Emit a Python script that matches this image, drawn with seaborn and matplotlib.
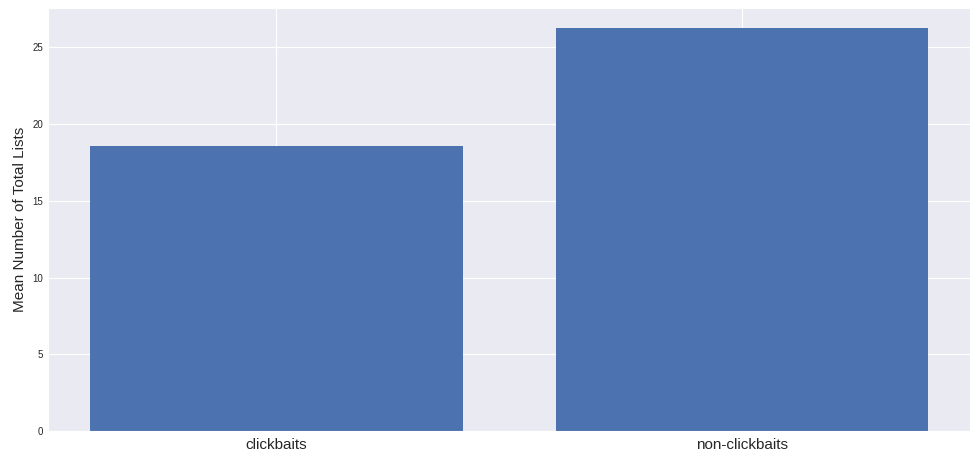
import matplotlib
matplotlib.use("Agg")
import matplotlib.pyplot as plt
import pandas as pd
import seaborn as sns

categories = ["clickbaits", "non-clickbaits"]
mean_lists = [18.55, 26.24]

sns.set_style("darkgrid")
plt.rcParams["font.family"] = ["Liberation Sans", "DejaVu Sans"]

df = pd.DataFrame({"type": categories, "mean": mean_lists})

fig, ax = plt.subplots(figsize=(9.8, 4.53), dpi=100)
sns.barplot(data=df, x="type", y="mean", color="#4C72B0", saturation=1,
            width=0.8, linewidth=0, ax=ax)
ax.set_xlim(-0.49, 1.49)
ax.xaxis.grid(True)
ax.set_axisbelow(True)
ax.set_xlabel("")
ax.set_ylabel("Mean Number of Total Lists", fontsize=11, color=".15")
ax.tick_params(axis="x", labelsize=11, colors=".15", length=0, pad=5)
ax.tick_params(axis="y", labelsize=7, colors=".15", length=0)
plt.subplots_adjust(left=0.049, right=0.99, top=0.982, bottom=0.048)
fig.savefig("out.png", dpi=100)
